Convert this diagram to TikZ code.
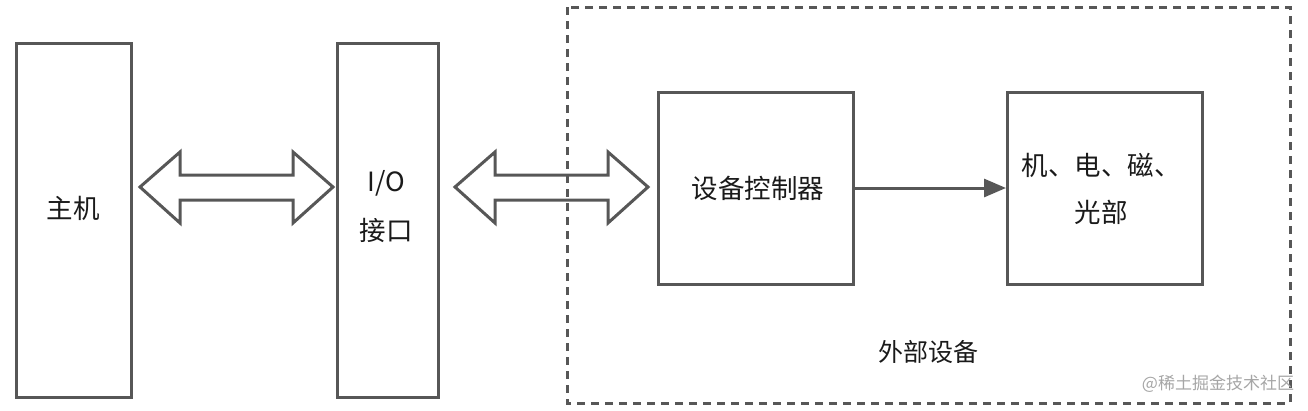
\documentclass[tikz,border=0pt]{standalone}
\usepackage{fontspec}
\newfontfamily\cjk{Noto Sans CJK SC}
\usetikzlibrary{arrows.meta}
\definecolor{ln}{HTML}{575757}
\definecolor{tx}{HTML}{1A1A1A}
\tikzset{
  box/.style={draw=ln, line width=3pt, fill=white},
  lbl/.style={font=\cjk\fontsize{26.5}{30}\selectfont, text=tx, align=center, inner sep=0pt},
  dbl/.style={draw=ln, line width=3pt, line join=miter, fill=white},
}
\begin{document}
\begin{tikzpicture}[x=1pt,y=-1pt]
\useasboundingbox (0,0) rectangle (1308,410);
% dashed frame
\draw[ln, line width=3pt, dash pattern=on 8pt off 6pt] (567,7) rectangle (1290,403);
% boxes
\node[box, minimum width=115pt, minimum height=354pt, anchor=north west, inner sep=0pt] (host) at (15,42) {};
\node[box, minimum width=101pt, minimum height=354pt, anchor=north west, inner sep=0pt] (io) at (336,42) {};
\node[box, minimum width=195pt, minimum height=192pt, anchor=north west, inner sep=0pt] (ctrl) at (657,91) {};
\node[box, minimum width=195pt, minimum height=192pt, anchor=north west, inner sep=0pt] (dev) at (1006,91) {};
% labels
\node[lbl] (thost) at (73,208) {主机};
\node[lbl] (tio1) at (386,183) {I/O};
\node[lbl] (tio2) at (386,230) {接口};
\node[lbl] (tctrl) at (758,188) {设备控制器};
\node[lbl] (tdev1) at (1101,165) {机、电、磁、};
\node[lbl] (tdev2) at (1101,212) {光部};
\node[lbl, font=\cjk\fontsize{25}{30}\selectfont] (tout) at (928,352) {外部设备};
\node[font=\cjk\fontsize{17}{20}\selectfont, text=black!35, inner sep=0pt] (wm) at (1218,384) {@稀土掘金技术社区};
% double arrows
\coordinate (a1l) at (140,187);
\coordinate (a1r) at (333,187);
\draw[dbl] (a1l) -- (180,152) -- (180,175) -- (293,175) -- (293,152) -- (a1r) -- (293,223) -- (293,200) -- (180,200) -- (180,223) -- cycle;
\coordinate (a2l) at (455,187);
\coordinate (a2r) at (648,187);
\draw[dbl, fill opacity=0] (a2l) -- (495,152) -- (495,175) -- (608,175) -- (608,152) -- (a2r) -- (608,223) -- (608,200) -- (495,200) -- (495,223) -- cycle;
% arrow
\draw[ln, line width=3pt, -{Triangle[length=22pt,width=18pt]}] (ctrl.east |- 0,188) -- (dev.west |- 0,188);
\end{tikzpicture}
\end{document}
